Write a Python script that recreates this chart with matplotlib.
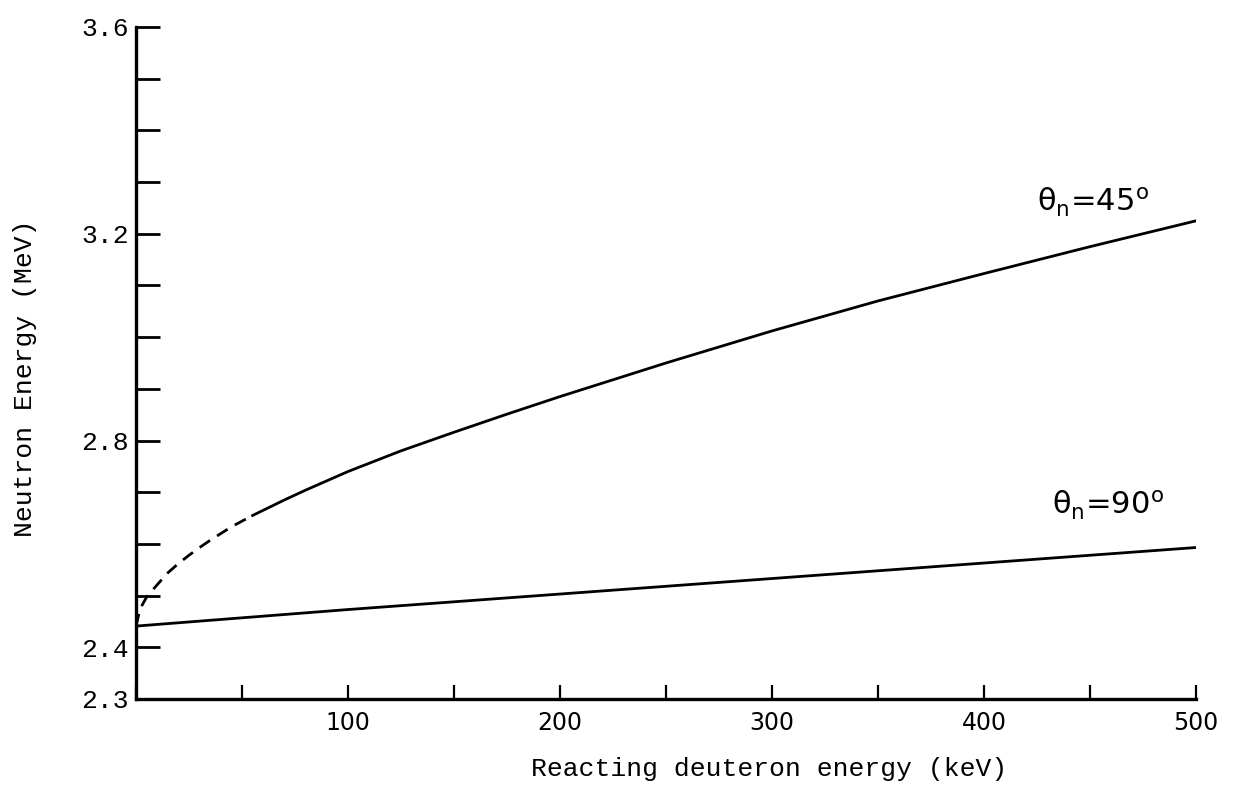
import numpy as np
import matplotlib
matplotlib.use("Agg")
import matplotlib.pyplot as plt

# theta_n = 45 deg, dashed (extrapolated) part
e45_dash = [0, 2, 5, 10, 15, 20, 25, 30, 35, 40, 45, 50, 55]
n45_dash = [2.441, 2.475, 2.497, 2.521, 2.544, 2.562, 2.578, 2.593, 2.607, 2.620, 2.633, 2.644, 2.655]
# theta_n = 45 deg, solid part
e45 = [55, 70, 80, 100, 125, 150, 175, 200, 250, 300, 350, 400, 450, 500]
n45 = [2.655, 2.685, 2.704, 2.740, 2.780, 2.816, 2.851, 2.885, 2.950, 3.012, 3.070, 3.123, 3.175, 3.225]
# theta_n = 90 deg
e90 = [0, 100, 200, 300, 400, 500]
n90 = [2.441, 2.473, 2.503, 2.533, 2.563, 2.593]

xticks_all = [0, 50, 100, 150, 200, 250, 300, 350, 400, 450, 500]
xtick_labels = ["", "", "100", "", "200", "", "300", "", "400", "", "500"]
yticks_all = [2.3, 2.4, 2.5, 2.6, 2.7, 2.8, 2.9, 3.0, 3.1, 3.2, 3.3, 3.4, 3.5, 3.6]
ylabels_at = {2.3: "2.3", 2.4: "2.4", 2.8: "2.8", 3.2: "3.2", 3.6: "3.6"}

mono = "Liberation Mono"

fig = plt.figure(figsize=(12.34, 7.89), dpi=100)
ax = fig.add_axes([0.1102, 0.1141, 0.8590, 0.8517])

ax.plot(e45_dash, n45_dash, color="black", lw=2.0, dashes=(4.5, 3))
ax.plot(e45, n45, color="black", lw=2.0)
ax.plot(e90, n90, color="black", lw=2.0)

ax.set_xlim(0, 500)
ax.set_ylim(2.3, 3.6)

for side in ["top", "right"]:
    ax.spines[side].set_visible(False)
for side in ["left", "bottom"]:
    ax.spines[side].set_linewidth(2.4)
    ax.spines[side].set_color("black")

ax.set_xticks(xticks_all)
ax.set_xticklabels(xtick_labels, fontsize=17, family="DejaVu Sans")
ax.set_yticks(yticks_all)
ax.set_yticklabels([ylabels_at.get(round(v, 1), "") for v in yticks_all],
                   fontsize=19, family=mono)
ax.tick_params(axis="x", direction="in", length=10, width=1.6, pad=9)
ax.tick_params(axis="y", direction="in", length=17, width=2.0, pad=5)

# labels sit off-centre in the original
ax.set_xlabel("Reacting deuteron energy (keV)", fontsize=19, family=mono)
ax.xaxis.set_label_coords(0.597, -0.086)
ax.set_ylabel("Neutron Energy (MeV)", fontsize=19, family=mono)
ax.yaxis.set_label_coords(-0.093, 0.478)

ax.text(425, 3.242, r"$\mathrm{\theta}_{\mathrm{n}}$=45$^{\mathrm{o}}$", fontsize=22,
        ha="left", va="baseline")
ax.text(432, 2.656, r"$\mathrm{\theta}_{\mathrm{n}}$=90$^{\mathrm{o}}$", fontsize=22,
        ha="left", va="baseline")

plt.savefig("out.png", dpi=100)
